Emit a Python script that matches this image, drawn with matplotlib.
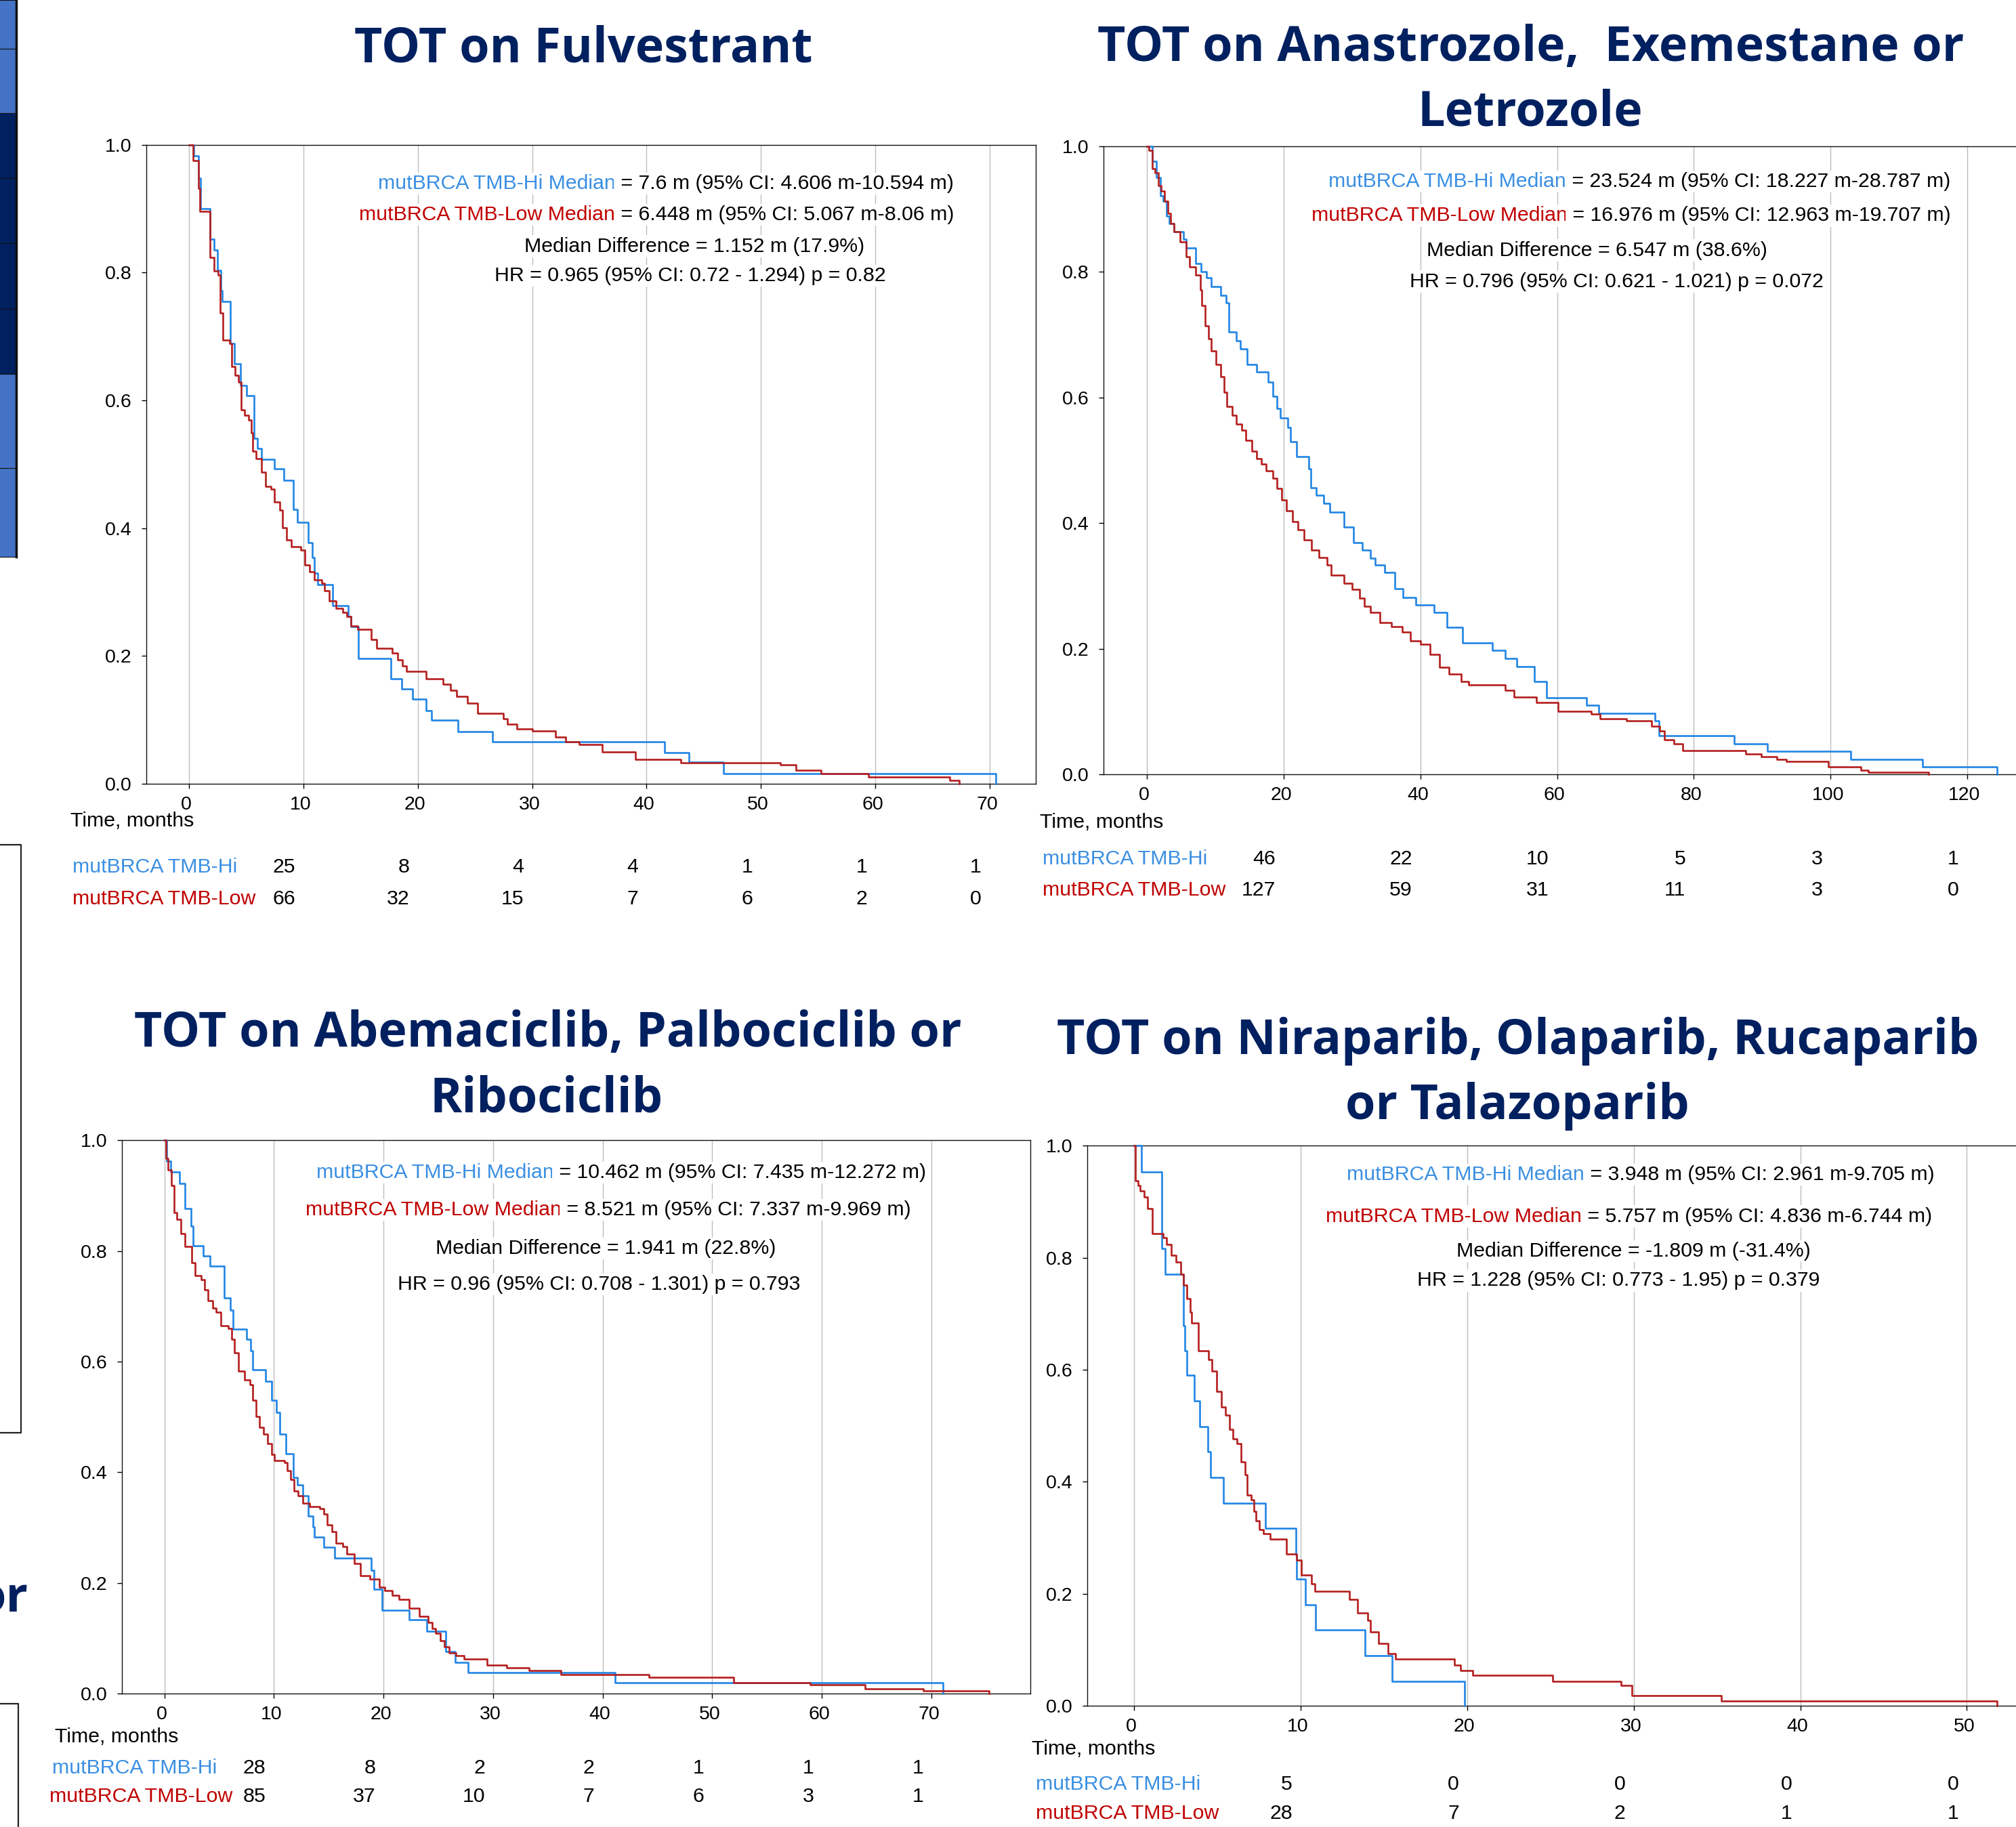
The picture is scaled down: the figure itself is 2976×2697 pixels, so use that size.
import matplotlib
matplotlib.use("Agg")
import matplotlib.pyplot as plt
from matplotlib import transforms
from matplotlib.patches import Rectangle
from matplotlib.lines import Line2D

# ---------------- data ----------------
A_hi_t = [0, 0.41, 0.81, 0.99, 1.86, 2.21, 2.50, 2.79, 2.91, 3.61, 3.96, 4.48, 5.06, 5.70, 5.99, 6.34, 7.45, 8.32, 9.13, 9.48,
          10.41, 10.76, 10.94, 11.23, 12.57, 13.90, 14.14, 14.83, 17.63, 18.62, 19.55, 20.71, 21.18, 23.50, 26.53, 41.59, 43.69, 46.71, 70.56]
A_hi_s = [1.0, 0.983, 0.948, 0.900, 0.852, 0.836, 0.804, 0.772, 0.755, 0.689, 0.657, 0.623, 0.607, 0.541, 0.525, 0.508, 0.493, 0.475, 0.429, 0.409,
          0.377, 0.354, 0.330, 0.312, 0.279, 0.262, 0.246, 0.196, 0.164, 0.148, 0.132, 0.114, 0.099, 0.081, 0.065, 0.049, 0.034, 0.016, 0.0]
A_lo_t = [0, 0.35, 0.81, 0.93, 1.86, 2.21, 2.56, 2.73, 2.97, 3.55, 3.72, 4.01, 4.30, 4.54, 4.83, 5.24, 5.47, 5.58, 5.88, 6.34,
          6.69, 7.16, 7.45, 7.91, 8.20, 8.55, 8.96, 9.77, 10.12, 10.53, 10.94, 11.63, 11.87, 12.27, 12.86, 13.44, 13.79, 14.14, 14.72, 15.94,
          16.40, 17.74, 18.27, 18.67, 19.02, 20.71, 22.22, 22.86, 23.39, 24.32, 25.25, 27.46, 27.81, 28.68, 30.02, 32.05, 32.93, 34.09, 36.13, 39.03,
          42.99, 51.72, 53.05, 55.26, 59.40, 66.49, 67.31]
A_lo_s = [1.0, 0.976, 0.932, 0.896, 0.824, 0.803, 0.796, 0.737, 0.694, 0.689, 0.653, 0.639, 0.629, 0.585, 0.577, 0.569, 0.549, 0.521, 0.509, 0.488,
          0.465, 0.461, 0.441, 0.428, 0.401, 0.381, 0.371, 0.366, 0.342, 0.332, 0.319, 0.314, 0.302, 0.286, 0.274, 0.268, 0.262, 0.247, 0.241, 0.226,
          0.212, 0.204, 0.194, 0.184, 0.176, 0.164, 0.156, 0.146, 0.136, 0.126, 0.110, 0.102, 0.093, 0.086, 0.082, 0.073, 0.065, 0.061, 0.050, 0.038,
          0.033, 0.029, 0.021, 0.016, 0.010, 0.005, 0.0]

B_hi_t = [0, 0.73, 1.37, 1.92, 2.38, 2.83, 3.20, 3.93, 5.30, 5.76, 7.13, 7.86, 8.68, 9.41, 10.78, 11.52, 11.97, 13.07, 13.62, 14.62,
          15.99, 17.73, 18.37, 19.01, 19.47, 20.56, 21.02, 21.84, 23.67, 23.94, 24.77, 25.86, 26.77, 28.79, 30.25, 31.53, 32.72, 33.36, 34.73, 36.28,
          37.47, 39.30, 41.95, 43.87, 46.15, 50.54, 52.37, 54.10, 56.66, 58.49, 64.25, 66.08, 74.30, 74.94, 85.91, 90.75, 102.91, 113.42, 124.38]
B_hi_s = [1.0, 0.976, 0.950, 0.921, 0.913, 0.889, 0.877, 0.864, 0.852, 0.838, 0.814, 0.801, 0.791, 0.777, 0.763, 0.751, 0.704, 0.690, 0.678, 0.653,
          0.641, 0.625, 0.602, 0.583, 0.568, 0.552, 0.530, 0.506, 0.487, 0.456, 0.444, 0.432, 0.418, 0.394, 0.369, 0.357, 0.344, 0.333, 0.321, 0.296,
          0.282, 0.270, 0.258, 0.234, 0.209, 0.197, 0.184, 0.172, 0.148, 0.122, 0.110, 0.097, 0.085, 0.061, 0.049, 0.037, 0.024, 0.012, 0.0]
B_lo_t = [0, 0.27, 0.73, 1.19, 1.65, 2.10, 2.56, 3.02, 3.47, 3.93, 4.84, 5.76, 6.21, 7.13, 7.77, 8.04, 8.50, 8.96, 9.41, 10.05,
          10.78, 11.24, 11.70, 12.43, 13.07, 13.80, 14.44, 15.35, 15.99, 16.72, 17.46, 18.37, 19.01, 19.65, 20.38, 21.29, 22.03, 22.94, 24.04, 25.13,
          26.32, 26.96, 28.79, 29.98, 31.07, 31.80, 32.72, 34.09, 35.73, 37.29, 38.48, 40.03, 41.40, 42.77, 44.14, 45.97, 47.07, 52.37, 53.74, 56.94,
          60.14, 64.98, 66.26, 70.19, 73.84, 75.03, 75.67, 77.04, 78.41, 87.55, 89.84, 92.12, 93.49, 99.71, 104.46, 105.56, 114.33]
B_lo_s = [1.0, 0.994, 0.964, 0.958, 0.937, 0.929, 0.913, 0.893, 0.877, 0.864, 0.848, 0.824, 0.808, 0.795, 0.771, 0.747, 0.714, 0.694, 0.674, 0.653,
          0.633, 0.609, 0.586, 0.572, 0.558, 0.548, 0.532, 0.515, 0.503, 0.494, 0.483, 0.471, 0.455, 0.437, 0.420, 0.402, 0.390, 0.373, 0.357, 0.345,
          0.333, 0.317, 0.304, 0.294, 0.280, 0.268, 0.258, 0.242, 0.235, 0.227, 0.213, 0.207, 0.191, 0.170, 0.160, 0.148, 0.142, 0.134, 0.123, 0.114,
          0.100, 0.096, 0.089, 0.085, 0.077, 0.069, 0.055, 0.049, 0.038, 0.032, 0.028, 0.024, 0.020, 0.012, 0.006, 0.003, 0.0]

C_hi_t = [0, 0.18, 0.55, 1.40, 1.88, 2.43, 2.61, 3.52, 4.19, 5.46, 6.01, 6.25, 7.53, 7.89, 8.07, 9.23, 9.77, 10.20, 10.56, 11.11,
          11.78, 12.14, 12.63, 13.11, 13.54, 13.66, 14.57, 15.54, 18.88, 19.12, 19.85, 22.34, 23.92, 25.68, 26.53, 27.69, 41.16, 71.03]
C_hi_s = [1.0, 0.962, 0.943, 0.922, 0.877, 0.845, 0.809, 0.791, 0.773, 0.715, 0.693, 0.659, 0.640, 0.620, 0.585, 0.565, 0.530, 0.508, 0.469, 0.434,
          0.391, 0.377, 0.358, 0.321, 0.301, 0.283, 0.264, 0.245, 0.223, 0.189, 0.151, 0.133, 0.113, 0.076, 0.056, 0.038, 0.019, 0.0]
C_lo_t = [0, 0.12, 0.36, 0.67, 0.91, 1.15, 1.52, 1.88, 2.49, 2.79, 3.34, 3.64, 4.01, 4.43, 4.74, 5.16, 5.83, 6.13, 6.37, 6.74,
          7.29, 7.83, 8.07, 8.38, 8.68, 9.05, 9.41, 9.77, 10.02, 10.99, 11.23, 11.54, 11.84, 12.20, 12.63, 13.24, 14.15, 14.57, 14.87, 15.30,
          15.66, 16.27, 16.64, 17.36, 17.91, 18.76, 19.61, 20.10, 20.82, 21.43, 22.34, 23.25, 24.04, 24.47, 24.77, 25.20, 25.56, 25.99, 26.59, 27.32,
          29.45, 31.27, 33.27, 36.19, 44.20, 51.97, 58.95, 63.93, 69.27, 75.28]
C_lo_s = [1.0, 0.967, 0.947, 0.918, 0.869, 0.857, 0.832, 0.808, 0.779, 0.755, 0.748, 0.730, 0.710, 0.697, 0.689, 0.665, 0.660, 0.640, 0.616, 0.583,
          0.567, 0.558, 0.530, 0.501, 0.481, 0.469, 0.452, 0.432, 0.421, 0.418, 0.403, 0.387, 0.366, 0.358, 0.344, 0.338, 0.334, 0.325, 0.305, 0.293,
          0.272, 0.266, 0.252, 0.235, 0.213, 0.207, 0.192, 0.186, 0.178, 0.170, 0.154, 0.139, 0.129, 0.117, 0.109, 0.096, 0.084, 0.074, 0.068, 0.062,
          0.052, 0.046, 0.042, 0.034, 0.029, 0.020, 0.016, 0.009, 0.005, 0.0]

D_hi_t = [0, 0.45, 1.66, 1.89, 2.95, 3.06, 3.17, 3.63, 3.93, 4.42, 4.61, 5.36, 7.89, 9.71, 9.78, 10.27, 10.91, 13.86, 15.48, 19.86]
D_hi_s = [1.0, 0.953, 0.816, 0.771, 0.679, 0.634, 0.590, 0.544, 0.499, 0.454, 0.408, 0.362, 0.317, 0.270, 0.226, 0.180, 0.135, 0.089, 0.044, 0.0]
D_lo_t = [0, 0.08, 0.23, 0.38, 0.60, 0.83, 1.10, 1.74, 1.96, 2.23, 2.53, 2.79, 2.98, 3.17, 3.36, 3.47, 3.85, 4.49, 4.68, 4.98,
          5.25, 5.51, 5.74, 5.93, 6.19, 6.42, 6.65, 6.80, 7.02, 7.21, 7.33, 7.52, 7.78, 8.19, 9.14, 9.78, 10.05, 10.65, 10.84, 12.92,
          13.41, 14.05, 14.20, 14.69, 15.26, 15.71, 19.22, 19.60, 20.35, 25.15, 29.23, 29.91, 35.27, 51.81]
D_lo_s = [1.0, 0.937, 0.929, 0.920, 0.908, 0.888, 0.843, 0.836, 0.824, 0.804, 0.792, 0.771, 0.751, 0.727, 0.703, 0.683, 0.634, 0.618, 0.598, 0.561,
          0.533, 0.519, 0.493, 0.477, 0.468, 0.436, 0.412, 0.376, 0.368, 0.347, 0.330, 0.315, 0.307, 0.297, 0.271, 0.260, 0.233, 0.218, 0.204, 0.190,
          0.166, 0.153, 0.132, 0.111, 0.093, 0.083, 0.073, 0.063, 0.055, 0.044, 0.036, 0.018, 0.008, 0.0]

A_risk_hi = [25, 8, 4, 4, 1, 1, 1]
A_risk_lo = [66, 32, 15, 7, 6, 2, 0]
B_risk_hi = [46, 22, 10, 5, 3, 1]
B_risk_lo = [127, 59, 31, 11, 3, 0]
C_risk_hi = [28, 8, 2, 2, 1, 1, 1]
C_risk_lo = [85, 37, 10, 7, 6, 3, 1]
D_risk_hi = [5, 0, 0, 0, 0]
D_risk_lo = [28, 7, 2, 1, 1]

A_xticks = [0, 10, 20, 30, 40, 50, 60, 70]
B_xticks = [0, 20, 40, 60, 80, 100, 120]
C_xticks = [0, 10, 20, 30, 40, 50, 60, 70]
D_xticks = [0, 10, 20, 30, 40, 50]
y_ticks = [0.0, 0.2, 0.4, 0.6, 0.8, 1.0]

A_title = ["TOT on Fulvestrant"]
B_title = ["TOT on Anastrozole,  Exemestane or", "Letrozole"]
C_title = ["TOT on Abemaciclib, Palbociclib or", "Ribociclib"]
D_title = ["TOT on Niraparib, Olaparib, Rucaparib", "or Talazoparib"]

HI_NAME = "mutBRCA TMB-Hi"
LO_NAME = "mutBRCA TMB-Low"
A_stats = ["= 7.6 m (95% CI: 4.606 m-10.594 m)", "= 6.448 m (95% CI: 5.067 m-8.06 m)",
           "Median Difference = 1.152 m (17.9%)", "HR = 0.965 (95% CI: 0.72 - 1.294) p = 0.82"]
B_stats = ["= 23.524 m (95% CI: 18.227 m-28.787 m)", "= 16.976 m (95% CI: 12.963 m-19.707 m)",
           "Median Difference = 6.547 m (38.6%)", "HR = 0.796 (95% CI: 0.621 - 1.021) p = 0.072"]
C_stats = ["= 10.462 m (95% CI: 7.435 m-12.272 m)", "= 8.521 m (95% CI: 7.337 m-9.969 m)",
           "Median Difference = 1.941 m (22.8%)", "HR = 0.96 (95% CI: 0.708 - 1.301) p = 0.793"]
D_stats = ["= 3.948 m (95% CI: 2.961 m-9.705 m)", "= 5.757 m (95% CI: 4.836 m-6.744 m)",
           "Median Difference = -1.809 m (-31.4%)", "HR = 1.228 (95% CI: 0.773 - 1.95) p = 0.379"]

# ---------------- style ----------------
W, H, DPI = 2976, 2697, 100
BLUE_LINE = "#2185E4"
RED_LINE = "#B41E1E"
BLUE_TXT = "#3A8FE2"
RED_TXT = "#C00000"
NAVY = "#002060"
GRID = "#BDBDBD"
FS = 21.8
TICK_FS = 20.5
TITLE_FS = 51.7
TITLE_FONT = ["Open Sans", "DejaVu Sans"]

plt.rcParams["font.family"] = ["Liberation Sans", "DejaVu Sans"]

fig = plt.figure(figsize=(W / DPI, H / DPI), dpi=DPI)
fig.patch.set_facecolor("white")
renderer = fig.canvas.get_renderer()


def fx(x):
    return x / W


def fy(y):
    return 1 - y / H


panels = [
    dict(box=(216, 213.9, 1529, 1156.7), xlim=(-3.73, 74.03), xticks=A_xticks,
         curves=((A_hi_t, A_hi_s), (A_lo_t, A_lo_s)), risk=(A_risk_hi, A_risk_lo),
         title=A_title, title_pos=[(861, 91.7)], stats=A_stats,
         stat_pos=[(983, 271), (969.5, 317), (1024.6, 363.6), (1018.6, 407)],
         lab_pos=[(104, 1220), (107, 1288), (107, 1335)]),
    dict(box=(1628.7, 216.1, 2984.7, 1143), xlim=(-6.4, 128.0), xticks=B_xticks,
         curves=((B_hi_t, B_hi_s), (B_lo_t, B_lo_s)), risk=(B_risk_hi, B_risk_lo),
         title=B_title, title_pos=[(2260, 90), (2259, 185)], stats=B_stats,
         stat_pos=[(2420, 268), (2407.8, 318.5), (2357.6, 369.6), (2386.5, 415.5)],
         lab_pos=[(1534.6, 1222), (1539, 1276), (1539, 1322.5)]),
    dict(box=(179.7, 1683.4, 1520.6, 2500), xlim=(-3.89, 79.0), xticks=C_xticks,
         curves=((C_hi_t, C_hi_s), (C_lo_t, C_lo_s)), risk=(C_risk_hi, C_risk_lo),
         title=C_title, title_pos=[(808.6, 1545), (806.5, 1641)], stats=C_stats,
         stat_pos=[(917, 1730.8), (897.8, 1786), (894, 1843), (884, 1895.7)],
         lab_pos=[(81, 2572), (76.7, 2617.5), (72.7, 2660)]),
    dict(box=(1605.4, 1691.4, 3051, 2518), xlim=(-2.79, 56.0), xticks=D_xticks,
         curves=((D_hi_t, D_hi_s), (D_lo_t, D_lo_s)), risk=(D_risk_hi, D_risk_lo),
         title=D_title, title_pos=[(2241, 1556), (2240, 1652)], stats=D_stats,
         stat_pos=[(2421.8, 1734), (2405, 1795.6), (2411, 1847), (2389, 1890.4)],
         lab_pos=[(1522.8, 2590), (1529, 2641.5), (1529, 2685)]),
]

BBOX = dict(facecolor="white", edgecolor="none", pad=1.5)


def put_line(cx, cy, parts):
    """parts: list of (text, color); the whole line is centred at pixel (cx, cy)."""
    objs = [fig.text(0, 0, s, color=c, fontsize=FS, ha="left", va="center", bbox=BBOX, zorder=5)
            for s, c in parts]
    widths = [o.get_window_extent(renderer).width for o in objs]
    x = cx - sum(widths) / 2
    for o, w in zip(objs, widths):
        o.set_position((fx(x), fy(cy)))
        x += w


for p in panels:
    l, t, r, b = p["box"]
    ax = fig.add_axes([fx(l), fy(b), (r - l) / W, (b - t) / H])
    ax.set_xlim(*p["xlim"])
    ax.set_ylim(0, 1)
    ax.set_xticks(p["xticks"])
    ax.set_yticks(y_ticks)
    ax.set_yticklabels([f"{v:.1f}" for v in y_ticks])
    ax.tick_params(axis="both", direction="out", length=5.0, width=1.0, labelsize=TICK_FS, colors="black")
    ax.tick_params(axis="y", pad=10.5)
    ax.tick_params(axis="x", pad=8)
    for v in p["xticks"]:
        ax.axvline(v, color=GRID, lw=1.0, zorder=1)
    for sp in ax.spines.values():
        sp.set_linewidth(1.0)
        sp.set_color("#111111")
    off = transforms.ScaledTranslation(-4 / DPI, 0, fig.dpi_scale_trans)
    for lab in ax.get_xticklabels():
        lab.set_transform(lab.get_transform() + off)

    (ht, hs), (lt, ls) = p["curves"]
    ax.step(ht, hs, where="post", color=BLUE_LINE, lw=1.9, zorder=3, clip_on=False)
    ax.step(lt, ls, where="post", color=RED_LINE, lw=1.9, zorder=4, clip_on=False)

    # titles
    for line, (cx, by) in zip(p["title"], p["title_pos"]):
        fig.text(fx(cx), fy(by), line, ha="center", va="baseline", fontsize=TITLE_FS,
                 fontweight="bold", color=NAVY, family=TITLE_FONT)

    # statistics block
    s = p["stats"]
    sp_ = p["stat_pos"]
    put_line(*sp_[0], [(HI_NAME + " Median", BLUE_TXT), (" " + s[0], "black")])
    put_line(*sp_[1], [(LO_NAME + " Median", RED_TXT), (" " + s[1], "black")])
    put_line(*sp_[2], [(s[2], "black")])
    put_line(*sp_[3], [(s[3], "black")])

    # number at risk table
    (tx, ty), (hx, hy), (lx, ly) = p["lab_pos"]
    fig.text(fx(tx), fy(ty), "Time, months", ha="left", va="baseline", fontsize=FS, color="black")
    fig.text(fx(hx), fy(hy), HI_NAME, ha="left", va="baseline", fontsize=FS, color=BLUE_TXT)
    fig.text(fx(lx), fy(ly), LO_NAME, ha="left", va="baseline", fontsize=FS, color=RED_TXT)
    trans = transforms.blended_transform_factory(ax.transData, fig.transFigure) + \
        transforms.ScaledTranslation(-12 / DPI, 0, fig.dpi_scale_trans)
    rh, rl = p["risk"]
    for tick, vh, vl in zip(p["xticks"][1:], rh, rl):
        fig.text(tick, fy(hy), str(vh), transform=trans, ha="right", va="baseline", fontsize=FS, color="black")
        fig.text(tick, fy(ly), str(vl), transform=trans, ha="right", va="baseline", fontsize=FS, color="black")

# ---------------- cropped slide elements at the left edge ----------------
strip_cells = [(0, 72, "#4472C4"), (72, 167, "#4472C4"), (167, 263, NAVY), (263, 359, NAVY),
               (359, 456, NAVY), (456, 552, NAVY), (552, 691, "#4472C4"), (691, 822, "#4472C4")]
for y0, y1, c in strip_cells:
    fig.add_artist(Rectangle((fx(-5), fy(y1)), (28) / W, (y1 - y0) / H, transform=fig.transFigure,
                             facecolor=c, edgecolor="#111111", lw=0.8))
fig.add_artist(Line2D([fx(23.5), fx(23.5)], [fy(0), fy(822)], transform=fig.transFigure, color="#111111", lw=2.5))

fig.add_artist(Line2D([fx(0), fx(31), fx(31), fx(0)], [fy(1247), fy(1247), fy(2115), fy(2115)],
                      transform=fig.transFigure, color="#222222", lw=1.6))
fig.add_artist(Line2D([fx(0), fx(27), fx(27)], [fy(2515), fy(2515), fy(2700)],
                      transform=fig.transFigure, color="#222222", lw=1.6))
fig.text(fx(42), fy(2380), "or", ha="right", va="baseline", fontsize=TITLE_FS, fontweight="bold",
         color=NAVY, family=TITLE_FONT)

fig.savefig("out.png", dpi=DPI, facecolor="white")
